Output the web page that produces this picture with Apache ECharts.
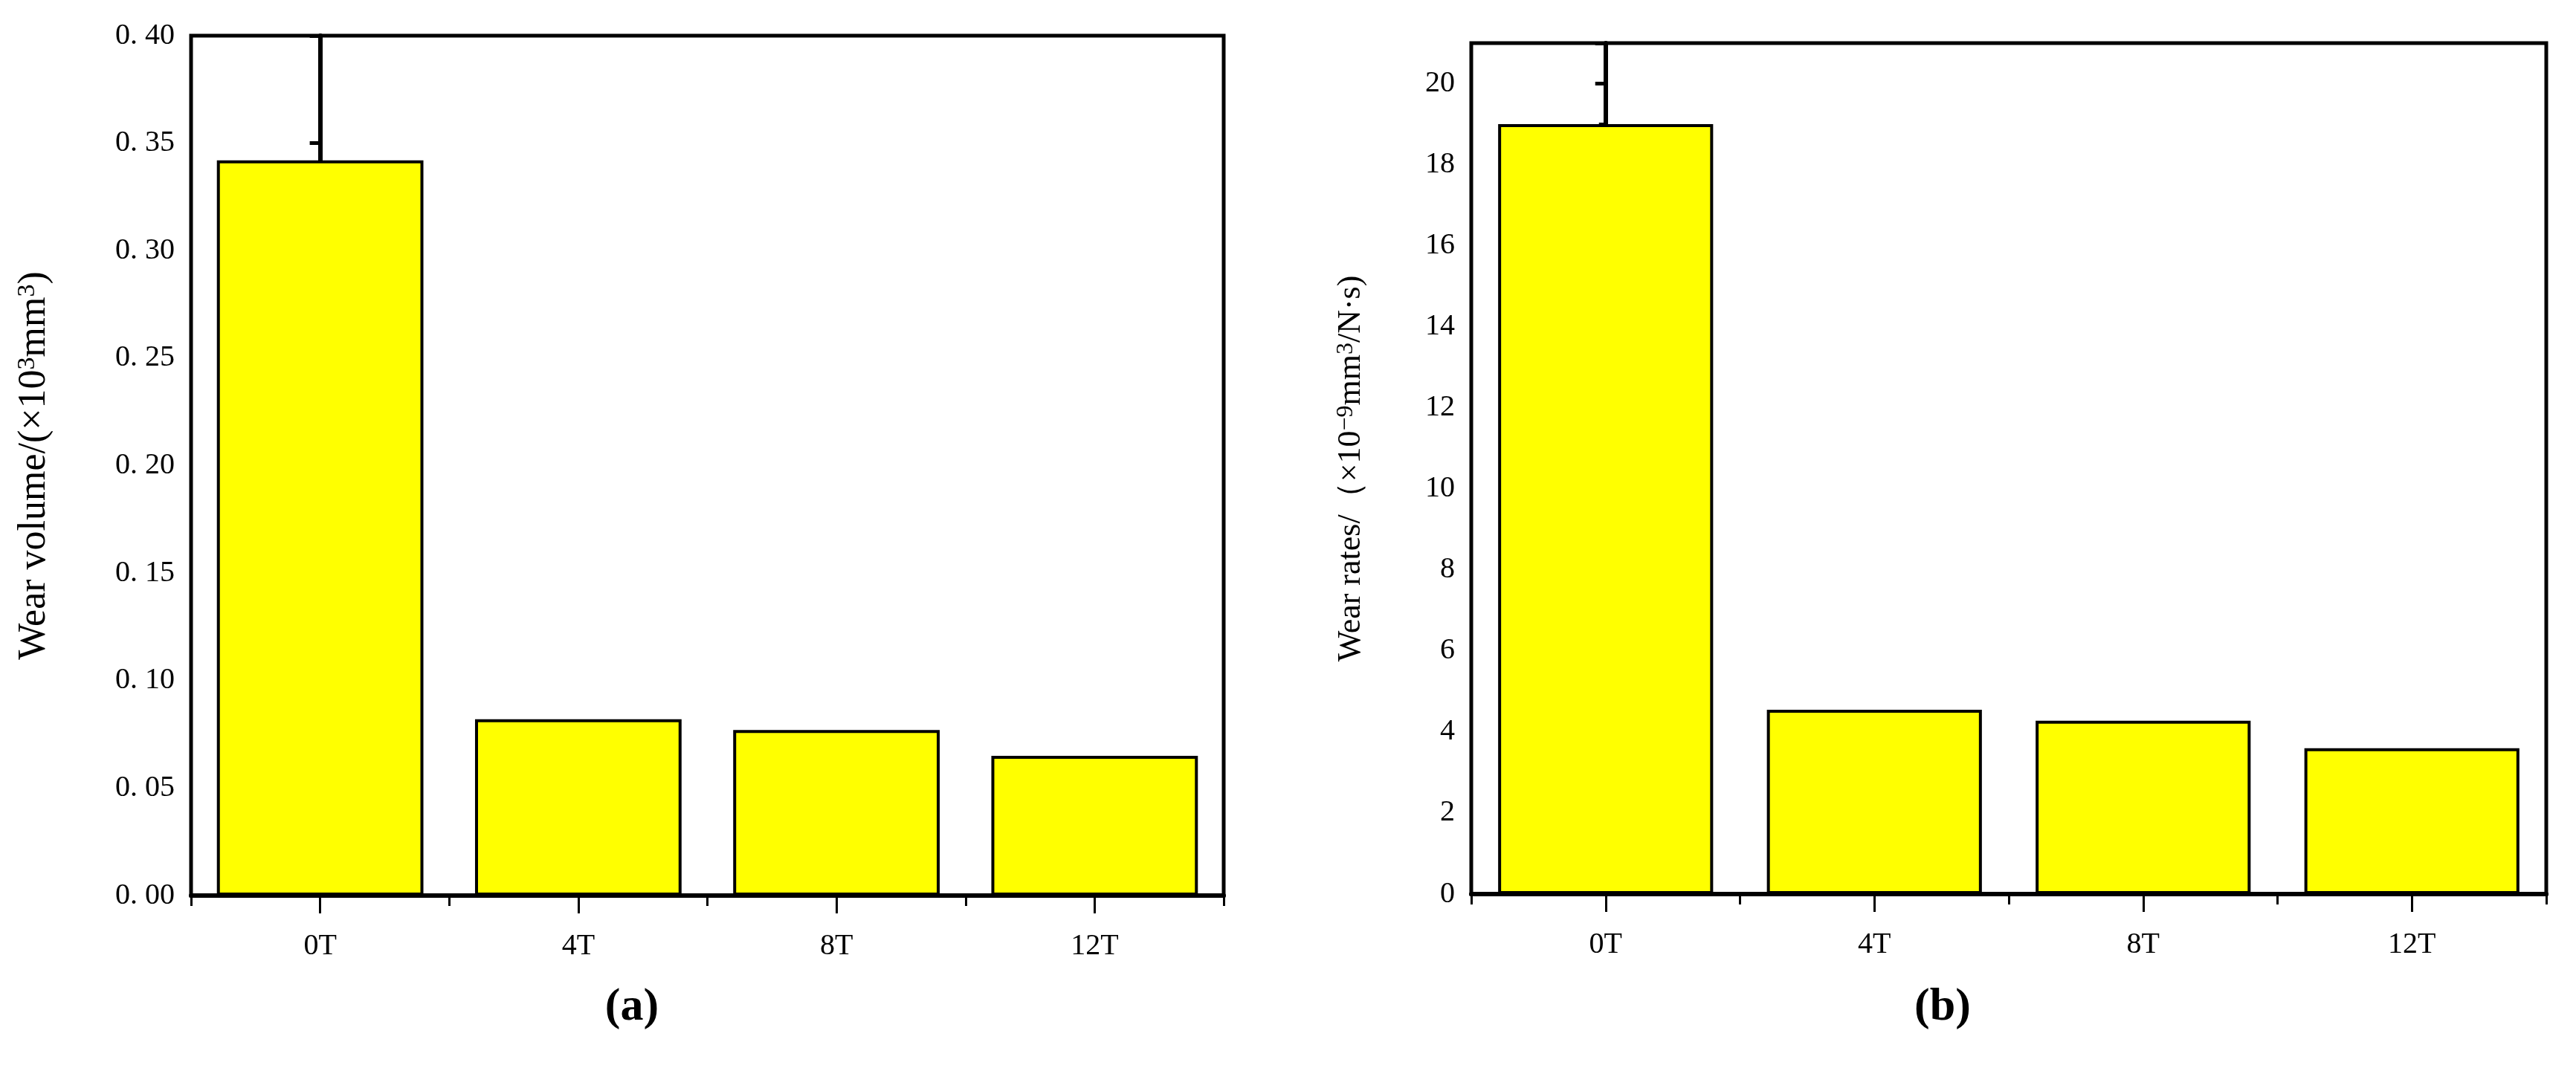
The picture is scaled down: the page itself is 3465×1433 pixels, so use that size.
<!DOCTYPE html><html><head><meta charset="utf-8"><script src="https://cdn.jsdelivr.net/npm/echarts@6/dist/echarts.min.js"></script>
<style>html,body{margin:0;background:#fff}#c{width:3465px;height:1433px}</style></head><body><div id="c"></div><script>
const categories=['0T','4T','8T','12T'];
const volumeValues=[0.342,0.082,0.077,0.065];
const rateValues=[19.0,4.55,4.28,3.6];
const chart=echarts.init(document.getElementById('c'));
const F='"Liberation Serif", serif';
const tickFont={fontFamily:F,fontSize:40,color:'#000'};
function grid(l,t,r,b){return {left:l,top:t,width:r-l,height:b-t,show:true,borderColor:'#000',borderWidth:5,backgroundColor:'transparent'};}
const sup={fontFamily:F,fontSize:32,verticalAlign:'top',lineHeight:30,color:'#000'};
chart.setOption({
 animation:false,
 grid:[grid(257,48,1646,1205),grid(1979,58,3425,1203)],
 title:[{text:'(a)',left:845,top:1320,textAlign:'center',textStyle:{fontFamily:F,fontSize:62,fontWeight:'bold',color:'#000'}},
        {text:'(b)',left:2608,top:1320,textAlign:'center',textStyle:{fontFamily:F,fontSize:62,fontWeight:'bold',color:'#000'}}],
 xAxis:[0,1].flatMap(i=>[
  {type:'category',gridIndex:i,data:categories,axisLine:{lineStyle:{color:'#000',width:6}},
   axisTick:{show:true,inside:false,length:14,lineStyle:{width:3,color:'#000'}},
   axisLabel:{...tickFont,margin:48}},
  {type:'value',gridIndex:i,min:-0.5,max:3.5,position:'bottom',axisLine:{show:false},splitLine:{show:false},
   axisLabel:{show:false},axisTick:{show:true,length:24,lineStyle:{width:3,color:'#000'},customValues:[0,1,2,3]}}]),
 yAxis:[
  {type:'value',gridIndex:0,min:0,max:0.4,interval:0.05,splitLine:{show:false},
   axisLine:{show:true,lineStyle:{color:'#000',width:6}},axisTick:{show:true,length:14,lineStyle:{width:5}},
   axisLabel:{...tickFont,margin:22,formatter:v=>v.toFixed(2).replace('.','. ')},
   name:'{n|Wear volume/(×10}{s|3}{n|mm}{s|3}{n|)}',nameLocation:'middle',nameGap:185,nameRotate:90,
   nameTextStyle:{rich:{n:{fontFamily:F,fontSize:52,color:'#000'},s:{...sup,fontSize:34}}}},
  {type:'value',gridIndex:1,min:0,max:21,interval:2,splitLine:{show:false},
   axisLine:{show:true,lineStyle:{color:'#000',width:6}},axisTick:{show:true,length:14,lineStyle:{width:5}},
   minorTick:{show:true,splitNumber:2,length:9,lineStyle:{width:4,color:'#000'}},
   axisLabel:{...tickFont,margin:22,showMaxLabel:false},
   name:'{n|Wear rates/（×10}{s|−9}{n|mm}{s|3}{n|/N·s)}',nameLocation:'middle',nameGap:140,nameRotate:90,
   nameTextStyle:{rich:{n:{fontFamily:F,fontSize:44,color:'#000'},s:sup}}}
 ],
 series:[
  {type:'bar',xAxisIndex:0,yAxisIndex:0,data:volumeValues,barWidth:'80%',itemStyle:{color:'#ffff00',borderColor:'#000',borderWidth:4}},
  {type:'bar',xAxisIndex:2,yAxisIndex:1,data:rateValues,barWidth:'80%',itemStyle:{color:'#ffff00',borderColor:'#000',borderWidth:4}}
 ]
});
</script></body></html>
